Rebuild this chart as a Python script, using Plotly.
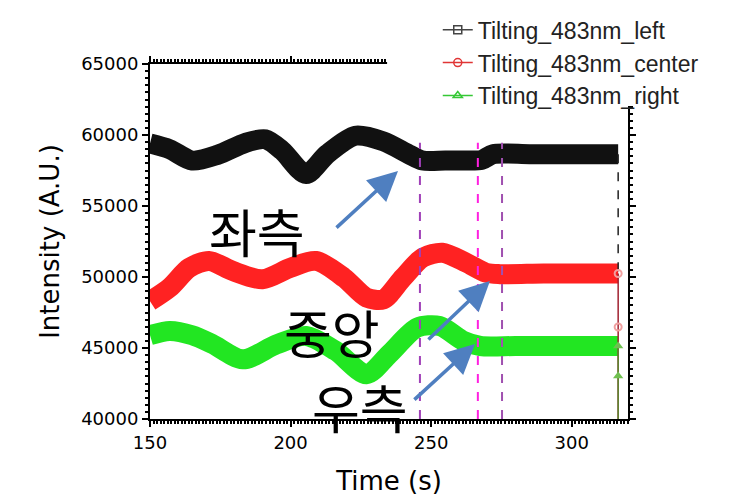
import plotly.graph_objects as go

# ---------------- data ----------------
left_t = [150, 157, 165, 174, 184, 191, 197, 205.5, 213, 223, 233, 242, 247, 255, 262, 268, 272, 285, 300, 316.5]
left_v = [59400, 59000, 58200, 58600, 59450, 59700, 58900, 57250, 58650, 59950, 59550, 58650, 58200, 58200, 58200, 58250, 58650, 58650, 58650, 58650]

center_t = [150, 157, 164, 171, 179.5, 190, 200, 209, 219, 227, 233, 240, 247, 254, 262.5, 269.5, 274.5, 290, 305, 316.5]
center_v = [48300, 49250, 50650, 51130, 50420, 49840, 50650, 51130, 49950, 48550, 48430, 49950, 51360, 51710, 51000, 50300, 50200, 50250, 50250, 50250]

right_t = [150, 157, 165, 172, 183, 195, 205.5, 216, 227, 235, 245, 253, 261.5, 267.5, 280, 300, 316.5]
right_v = [45900, 46200, 45900, 45300, 44200, 45250, 45850, 44800, 43150, 44550, 46430, 46550, 45500, 45140, 45140, 45140, 45140]

# end-of-record drop points
drop_t = [316.5, 316.5, 316.5]
left_drop_v = [58650, 50250]
center_drop_v = [50250, 46480, 38000]
right_drop_v = [45140, 43030, 38000]

# marker (dashed) lines
marker_t = [246.0, 266.6, 275.2]
marker_colors = ["#a040b8", "#ff20e0", "#a050b0"]

series_names = ["Tilting_483nm_left", "Tilting_483nm_center", "Tilting_483nm_right"]

x_ticks = [150, 200, 250, 300]
y_ticks = [40000, 45000, 50000, 55000, 60000, 65000]

# Korean labels with arrows
labels = ["좌측", "중앙", "우측"]
label_t = [188.1, 214.7, 224.7]
label_v = [53240, 46130, 40900]
arrow_head_t = [238.2, 270.9, 265.6]
arrow_head_v = [57465, 49718, 45282]
arrow_tail_t = [215.8, 248.5, 243.5]
arrow_tail_v = [53380, 45493, 41268]

# ---------------- figure ----------------
BLACK = "#111111"
RED = "#ff2222"
GREEN = "#22e622"

fig = go.Figure()

# legend entries (thin line with hollow markers)
leg_styles = [("#444444", "square-open"), ("#e03535", "circle-open"), ("#35c835", "triangle-up-open")]
for name, (c, sym) in zip(series_names, leg_styles):
    fig.add_trace(go.Scatter(x=[None], y=[None], mode="lines+markers", name=name,
                             line=dict(color=c, width=1.5),
                             marker=dict(symbol=sym, size=8, color=c, line=dict(width=1.5, color=c))))

# thick data bands
for t, v, c in [(left_t, left_v, BLACK), (center_t, center_v, RED), (right_t, right_v, GREEN)]:
    fig.add_trace(go.Scatter(x=t, y=v, mode="lines", showlegend=False,
                             line=dict(color=c, width=20, shape="spline", smoothing=0.8)))

# drops at the end
fig.add_trace(go.Scatter(x=drop_t[:2], y=left_drop_v, mode="lines", showlegend=False,
                         line=dict(color="#222222", width=1.5, dash="dash")))
fig.add_trace(go.Scatter(x=drop_t, y=center_drop_v, mode="lines+markers", showlegend=False,
                         line=dict(color="#a02030", width=1.5),
                         marker=dict(symbol="circle-open", size=7, color="#f0a0a0", line=dict(width=2))))
fig.add_trace(go.Scatter(x=drop_t, y=right_drop_v, mode="lines+markers", showlegend=False,
                         line=dict(color="#5a8a30", width=1.5),
                         marker=dict(symbol="triangle-up", size=9, color="#70c050")))

shapes = []
for mt, mc in zip(marker_t, marker_colors):
    shapes.append(dict(type="line", xref="x", yref="y", x0=mt, x1=mt, y0=40000, y1=59450,
                       line=dict(color=mc, width=2, dash="dash"), layer="above"))
# white legend backing hiding the frame
shapes.append(dict(type="rect", xref="paper", yref="paper", x0=0.496, x1=1.3, y0=0.882, y1=1.3,
                   fillcolor="white", line=dict(width=0), layer="above"))

annotations = []
for txt, tt, tv in zip(labels, label_t, label_v):
    annotations.append(dict(x=tt, y=tv, xref="x", yref="y", text=txt, showarrow=False,
                            font=dict(family="Noto Sans CJK KR", size=52, color="black")))
for ht, hv, at, av in zip(arrow_head_t, arrow_head_v, arrow_tail_t, arrow_tail_v):
    annotations.append(dict(x=ht, y=hv, xref="x", yref="y", ax=at, ay=av, axref="x", ayref="y",
                            text="", showarrow=True, arrowhead=2, arrowsize=1.7, arrowwidth=3.5,
                            arrowcolor="#4f7fc0"))

axis_common = dict(showline=True, linecolor="black", linewidth=2, mirror="allticks",
                   ticks="outside", ticklen=6, tickwidth=2, tickcolor="black",
                   showgrid=False, zeroline=False,
                   tickfont=dict(family="DejaVu Sans", size=18, color="black"))

fig.update_layout(
    width=729, height=500,
    margin=dict(l=142, r=109, t=56, b=89, autoexpand=False),
    paper_bgcolor="white", plot_bgcolor="white",
    shapes=shapes, annotations=annotations,
    legend=dict(x=0.602, y=1.157, xanchor="left", yanchor="top", bgcolor="rgba(0,0,0,0)",
                font=dict(family="Liberation Sans", size=23, color="#222222"),
                tracegroupgap=0, itemwidth=30),
    xaxis=dict(range=[150, 320], tickvals=x_ticks,
               minor=dict(dtick=1.25, ticklen=3, ticks="outside", tickcolor="black"),
               title=dict(text="Time (s)", font=dict(family="DejaVu Sans", size=26, color="black"),
                          standoff=20),
               **axis_common),
    yaxis=dict(range=[40000, 65000], tickvals=y_ticks, tickformat="d",
               minor=dict(dtick=500, ticklen=3, ticks="outside", tickcolor="black"),
               title=dict(text="Intensity (A.U.)", font=dict(family="DejaVu Sans", size=26, color="black"),
                          standoff=14),
               **axis_common),
)

fig.write_html("out.html")
